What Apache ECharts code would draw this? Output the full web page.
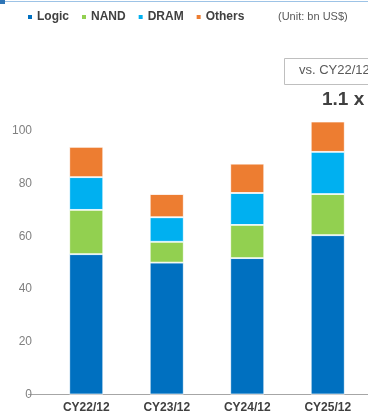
<!DOCTYPE html>
<html>
<head>
<meta charset="utf-8">
<script src="https://cdn.jsdelivr.net/npm/echarts@6/dist/echarts.min.js"></script>
<style>
  html, body { margin: 0; padding: 0; background: #fff; }
  #chart { width: 368px; height: 417px; }
</style>
</head>
<body>
<div id="chart"></div>
<script>
// Semiconductor market by segment (bn US$)
const categories = ['CY22/12', 'CY23/12', 'CY24/12', 'CY25/12'];
const logic  = [53.2, 50.0, 51.7, 60.4];
const nand   = [16.8, 7.9, 12.6, 15.6];
const dram   = [12.4, 9.3, 12.1, 16.0];
const others = [11.5, 8.8, 11.1, 11.5];
const yTicks = [0, 20, 40, 60, 80, 100];

const seriesDefs = [
  { name: 'Logic',  data: logic,  color: '#0070C0' },
  { name: 'NAND',   data: nand,   color: '#92D050' },
  { name: 'DRAM',   data: dram,   color: '#00B0F0' },
  { name: 'Others', data: others, color: '#ED7D31' }
];

const chart = echarts.init(document.getElementById('chart'), null, { renderer: 'canvas' });

const font = '"Liberation Sans", Arial, sans-serif';

chart.setOption({
  animation: false,
  backgroundColor: '#ffffff',
  textStyle: { fontFamily: font },
  legend: {
    left: 28,
    top: 11,
    padding: 0,
    itemWidth: 4,
    itemHeight: 4,
    itemGap: 13,
    icon: 'rect',
    itemStyle: { borderWidth: 0 },
    textStyle: { fontFamily: font, fontSize: 12, fontWeight: 'bold', color: '#404040' },
    data: seriesDefs.map(s => s.name)
  },
  grid: { left: 46, top: 78, width: 340, height: 316.5, containLabel: false },
  xAxis: {
    type: 'category',
    data: categories,
    axisLine: { lineStyle: { color: '#a6a6a6', width: 1 } },
    axisTick: { show: false },
    axisLabel: { fontFamily: font, fontSize: 12, fontWeight: 'bold', color: '#404040', margin: 7 }
  },
  yAxis: {
    type: 'value',
    min: 0,
    max: 120,
    interval: 20,
    splitLine: { show: false },
    axisLine: { show: false },
    axisTick: { show: false },
    axisLabel: {
      fontFamily: font, fontSize: 12, color: '#808080', margin: 14,
      formatter: v => (yTicks.indexOf(v) >= 0 ? String(v) : '')
    }
  },
  series: seriesDefs.map(s => ({
    name: s.name,
    type: 'bar',
    stack: 'total',
    barWidth: 34,
    data: s.data,
    itemStyle: { color: s.color, borderColor: '#ffffff', borderWidth: 0.8 },
    emphasis: { disabled: true }
  })),
  graphic: [
    // header rule and corner block
    { type: 'rect', shape: { x: 0, y: 1, width: 368, height: 1 }, style: { fill: '#9dc3e6' } },
    { type: 'rect', shape: { x: 0, y: 0, width: 5, height: 4 }, style: { fill: '#2e75b6' } },
    // unit note
    { type: 'text', left: 278, top: 11, style: { text: '(Unit: bn US$)', font: '11px ' + font, fill: '#595959' } },
    // left extension of the category axis line
    { type: 'line', shape: { x1: 28, y1: 394.5, x2: 46, y2: 394.5 }, style: { stroke: '#a6a6a6', lineWidth: 1 } },
    // comparison call-out
    { type: 'rect', shape: { x: 284.5, y: 58.5, width: 100, height: 26 }, style: { fill: '#ffffff', stroke: '#bfbfbf', lineWidth: 1 } },
    { type: 'text', left: 299, top: 64, style: { text: 'vs. CY22/12', font: '13px ' + font, fill: '#595959' } },
    { type: 'text', left: 322, top: 90, style: { text: '1.1 x', font: 'bold 19px ' + font, fill: '#404040' } }
  ]
});
</script>
</body>
</html>
